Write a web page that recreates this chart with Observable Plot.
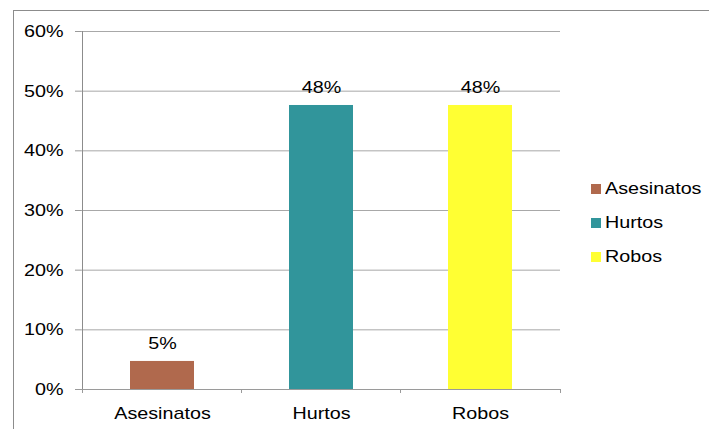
<!DOCTYPE html>
<html><head><meta charset="utf-8">
<script src="https://cdn.jsdelivr.net/npm/d3@7"></script>
<script src="https://cdn.jsdelivr.net/npm/@observablehq/plot@0.6"></script>
<style>
body{margin:0;background:#fff;}
#wrap{position:relative;width:709px;height:432px;overflow:hidden;font-family:"Liberation Sans",Arial,sans-serif;background:#fff;}
#frame{position:absolute;left:13px;top:10px;width:720px;height:418px;border-left:1px solid #8c8c8c;border-top:1px solid #8c8c8c;pointer-events:none;}
#chart{position:absolute;left:0;top:0;}
.legend{position:absolute;left:591px;top:172px;}
.row{position:absolute;left:0;height:20px;white-space:nowrap;}
.sw{position:absolute;left:0;top:5px;width:10px;height:10px;}
.lab{position:absolute;left:14px;top:0;font-size:17px;line-height:20px;color:#000;transform:scaleX(1.16);transform-origin:left center;}
</style></head>
<body>
<div id="wrap"><div id="chart"></div><div id="frame"></div><div class="legend" id="legend"></div></div>
<script>
const categories = ["Asesinatos", "Hurtos", "Robos"];
const values = [0.047, 0.476, 0.476];
const labels = ["5%", "48%", "48%"];
const colors = ["#B0694D", "#31959B", "#FFFF33"];
const yTicks = [0, 0.1, 0.2, 0.3, 0.4, 0.5, 0.6];

const data = categories.map((c, i) => ({cat: c, value: values[i], label: labels[i]}));
const font = '"Liberation Sans", Arial, sans-serif';

const chart = Plot.plot({
  width: 709,
  height: 432,
  marginLeft: 81,
  marginRight: 149,
  marginTop: 31,
  marginBottom: 43,
  style: {fontSize: "17px", fontFamily: font, color: "#000", background: "transparent"},
  x: {domain: categories, paddingInner: 0.6, paddingOuter: 0.3, label: null},
  y: {domain: [0, 0.6], label: null},
  color: {domain: categories, range: colors},
  marks: [
    Plot.ruleY(yTicks, {stroke: "#a8a8a8", strokeWidth: 1}),
    Plot.barY(data, {x: "cat", y: "value", fill: "cat"}),
    Plot.ruleY([0], {stroke: "#9a9a9a", strokeWidth: 1}),
    Plot.ruleX(data, {x: "cat", dx: -80, y1: 0, y2: -0.0067, stroke: "#9a9a9a"}),
    Plot.ruleX(data.slice(-1), {x: "cat", dx: 80, y1: 0, y2: -0.0067, stroke: "#9a9a9a"}),
    Plot.ruleX(data.slice(0, 1), {x: "cat", dx: -80, y1: 0, y2: 0.6, stroke: "#8c8c8c"}),
    Plot.text(data, {x: "cat", y: "value", text: "label", dy: -18, fill: "#000", fontSize: 17}),
    Plot.axisY({ticks: yTicks, tickFormat: d => Math.round(d * 100) + "%", tickSize: 6, tickPadding: 12, stroke: "#9a9a9a", label: null}),
    Plot.axisX({tickSize: 0, tickPadding: 17, label: null})
  ]
});
document.getElementById("chart").appendChild(chart);

chart.querySelectorAll("text").forEach(t => {
  const w = t.getComputedTextLength();
  if (w > 0) {
    t.setAttribute("textLength", (w * 1.16).toFixed(1));
    t.setAttribute("lengthAdjust", "spacingAndGlyphs");
  }
});

const legend = document.getElementById("legend");
const rowTops = [0, 34, 68];
categories.forEach((c, i) => {
  const row = document.createElement("div");
  row.className = "row";
  row.style.top = rowTops[i] + 7 + "px";
  const sw = document.createElement("div");
  sw.className = "sw";
  sw.style.background = colors[i];
  const lab = document.createElement("div");
  lab.className = "lab";
  lab.textContent = c;
  row.appendChild(sw);
  row.appendChild(lab);
  legend.appendChild(row);
});
</script>
</body></html>
